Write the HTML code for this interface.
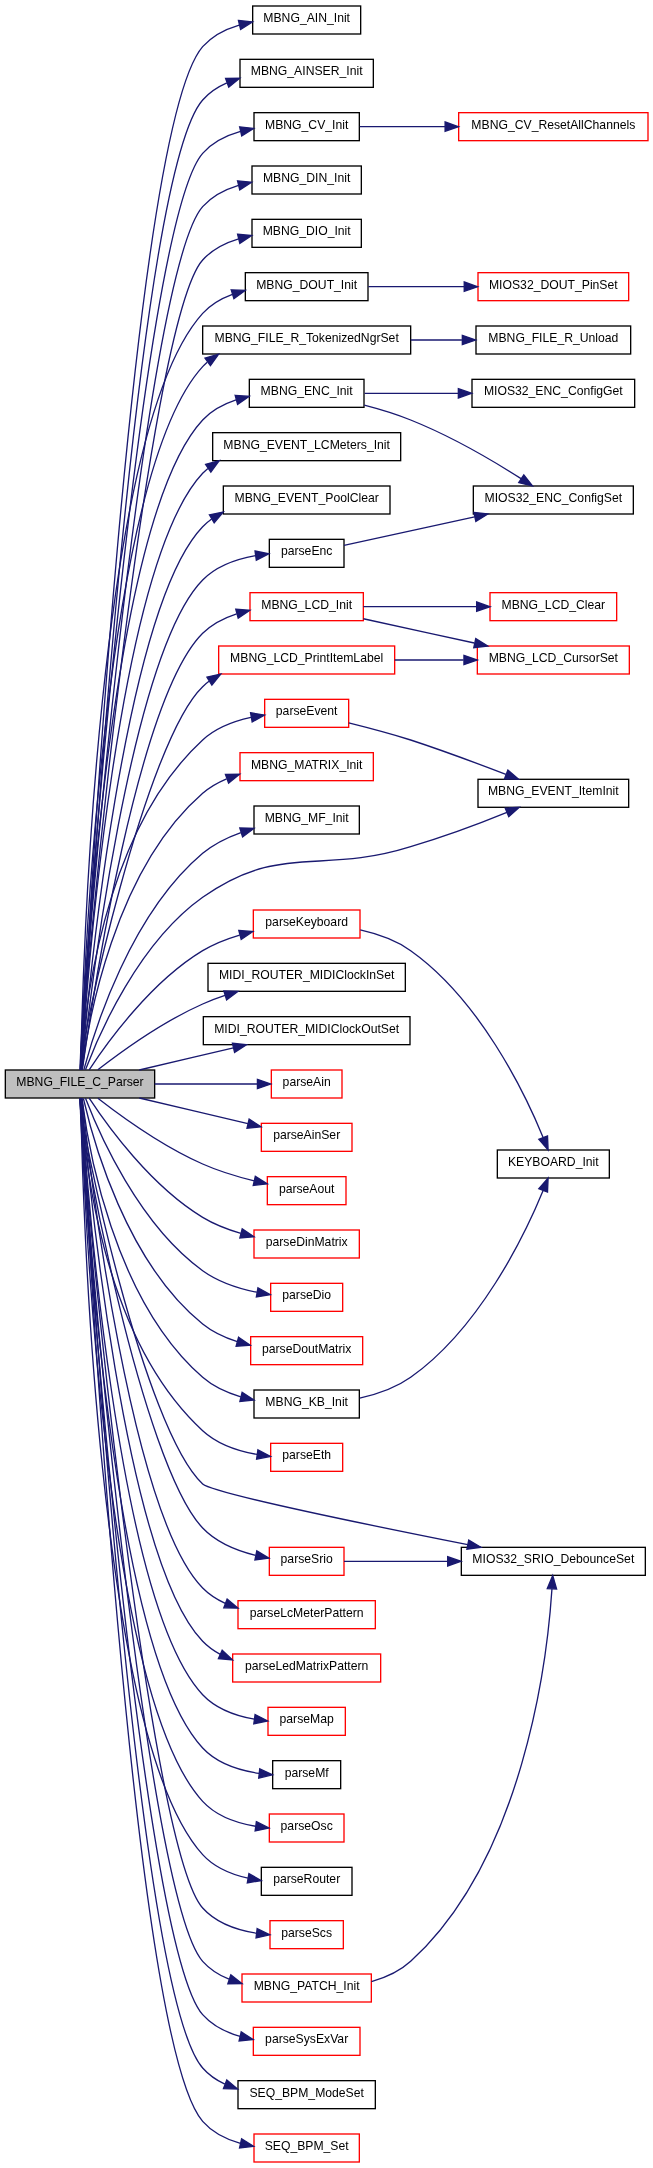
<!DOCTYPE html>
<html><head><meta charset="utf-8"><title>MBNG_FILE_C_Parser call graph</title><style>html,body{margin:0;padding:0;background:#fff;width:653px;height:2168px;overflow:hidden}svg{display:block;will-change:transform}</style></head>
<body><svg width="653" height="2168" viewBox="0 0 653 2168">
<g stroke-width="1.33">
<rect x="5.33" y="1070" width="149.33" height="28" fill="#bfbfbf" stroke="#000000"/>
<rect x="252.67" y="6" width="108" height="28" fill="#ffffff" stroke="#000000"/>
<rect x="240" y="59.33" width="133.33" height="28" fill="#ffffff" stroke="#000000"/>
<rect x="254" y="112.67" width="105.33" height="28" fill="#ffffff" stroke="#000000"/>
<rect x="252" y="166" width="109.33" height="28" fill="#ffffff" stroke="#000000"/>
<rect x="252" y="219.33" width="109.33" height="28" fill="#ffffff" stroke="#000000"/>
<rect x="245.33" y="272.67" width="122.67" height="28" fill="#ffffff" stroke="#000000"/>
<rect x="202.67" y="326" width="208" height="28" fill="#ffffff" stroke="#000000"/>
<rect x="249.33" y="379.33" width="114.67" height="28" fill="#ffffff" stroke="#000000"/>
<rect x="212.67" y="432.67" width="188" height="28" fill="#ffffff" stroke="#000000"/>
<rect x="223.33" y="486" width="166.67" height="28" fill="#ffffff" stroke="#000000"/>
<rect x="269.33" y="539.33" width="74.67" height="28" fill="#ffffff" stroke="#000000"/>
<rect x="250" y="592.67" width="113.33" height="28" fill="#ffffff" stroke="#ff0000"/>
<rect x="218.67" y="646" width="176" height="28" fill="#ffffff" stroke="#ff0000"/>
<rect x="264.67" y="699.33" width="84" height="28" fill="#ffffff" stroke="#ff0000"/>
<rect x="240" y="752.67" width="133.33" height="28" fill="#ffffff" stroke="#ff0000"/>
<rect x="254" y="806" width="105.33" height="28" fill="#ffffff" stroke="#000000"/>
<rect x="478" y="779.3" width="150.67" height="28" fill="#ffffff" stroke="#000000"/>
<rect x="253.33" y="910" width="106.67" height="28" fill="#ffffff" stroke="#ff0000"/>
<rect x="208" y="963.33" width="197.33" height="28" fill="#ffffff" stroke="#000000"/>
<rect x="203.33" y="1016.67" width="206.67" height="28" fill="#ffffff" stroke="#000000"/>
<rect x="271.33" y="1070" width="70.67" height="28" fill="#ffffff" stroke="#ff0000"/>
<rect x="261.33" y="1123.33" width="90.67" height="28" fill="#ffffff" stroke="#ff0000"/>
<rect x="267.33" y="1176.67" width="78.67" height="28" fill="#ffffff" stroke="#ff0000"/>
<rect x="254" y="1230" width="105.33" height="28" fill="#ffffff" stroke="#ff0000"/>
<rect x="270.67" y="1283.33" width="72" height="28" fill="#ffffff" stroke="#ff0000"/>
<rect x="250.67" y="1336.67" width="112" height="28" fill="#ffffff" stroke="#ff0000"/>
<rect x="254" y="1390" width="105.33" height="28" fill="#ffffff" stroke="#000000"/>
<rect x="270.67" y="1443.33" width="72" height="28" fill="#ffffff" stroke="#ff0000"/>
<rect x="461.33" y="1547.33" width="184" height="28" fill="#ffffff" stroke="#000000"/>
<rect x="269.33" y="1547.33" width="74.67" height="28" fill="#ffffff" stroke="#ff0000"/>
<rect x="238" y="1600.67" width="137.33" height="28" fill="#ffffff" stroke="#ff0000"/>
<rect x="232.67" y="1654" width="148" height="28" fill="#ffffff" stroke="#ff0000"/>
<rect x="268" y="1707.33" width="77.33" height="28" fill="#ffffff" stroke="#ff0000"/>
<rect x="272.67" y="1760.67" width="68" height="28" fill="#ffffff" stroke="#000000"/>
<rect x="269.33" y="1814" width="74.67" height="28" fill="#ffffff" stroke="#ff0000"/>
<rect x="261.33" y="1867.33" width="90.67" height="28" fill="#ffffff" stroke="#000000"/>
<rect x="270" y="1920.67" width="73.33" height="28" fill="#ffffff" stroke="#ff0000"/>
<rect x="242" y="1974" width="129.33" height="28" fill="#ffffff" stroke="#ff0000"/>
<rect x="253.33" y="2027.33" width="106.67" height="28" fill="#ffffff" stroke="#ff0000"/>
<rect x="238" y="2080.67" width="137.33" height="28" fill="#ffffff" stroke="#000000"/>
<rect x="254" y="2134" width="105.33" height="28" fill="#ffffff" stroke="#ff0000"/>
<rect x="458.67" y="112.67" width="189.33" height="28" fill="#ffffff" stroke="#ff0000"/>
<rect x="478" y="272.67" width="150.67" height="28" fill="#ffffff" stroke="#ff0000"/>
<rect x="476" y="326" width="154.67" height="28" fill="#ffffff" stroke="#000000"/>
<rect x="472" y="379.33" width="162.67" height="28" fill="#ffffff" stroke="#000000"/>
<rect x="473.33" y="486" width="160" height="28" fill="#ffffff" stroke="#000000"/>
<rect x="490" y="592.67" width="126.67" height="28" fill="#ffffff" stroke="#ff0000"/>
<rect x="477.33" y="646" width="152" height="28" fill="#ffffff" stroke="#ff0000"/>
<rect x="497.33" y="1150" width="112" height="28" fill="#ffffff" stroke="#000000"/>
</g>
<g font-family="'Liberation Sans', sans-serif" font-size="12.2" text-anchor="middle" fill="#000">
<text x="80" y="1086">MBNG_FILE_C_Parser</text>
<text x="306.67" y="22">MBNG_AIN_Init</text>
<text x="306.67" y="75.33">MBNG_AINSER_Init</text>
<text x="306.67" y="128.67">MBNG_CV_Init</text>
<text x="306.67" y="182">MBNG_DIN_Init</text>
<text x="306.67" y="235.33">MBNG_DIO_Init</text>
<text x="306.67" y="288.67">MBNG_DOUT_Init</text>
<text x="306.67" y="342">MBNG_FILE_R_TokenizedNgrSet</text>
<text x="306.67" y="395.33">MBNG_ENC_Init</text>
<text x="306.67" y="448.67">MBNG_EVENT_LCMeters_Init</text>
<text x="306.67" y="502">MBNG_EVENT_PoolClear</text>
<text x="306.67" y="555.33">parseEnc</text>
<text x="306.67" y="608.67">MBNG_LCD_Init</text>
<text x="306.67" y="662">MBNG_LCD_PrintItemLabel</text>
<text x="306.67" y="715.33">parseEvent</text>
<text x="306.67" y="768.67">MBNG_MATRIX_Init</text>
<text x="306.67" y="822">MBNG_MF_Init</text>
<text x="553.33" y="795.3">MBNG_EVENT_ItemInit</text>
<text x="306.67" y="926">parseKeyboard</text>
<text x="306.67" y="979.33">MIDI_ROUTER_MIDIClockInSet</text>
<text x="306.67" y="1032.67">MIDI_ROUTER_MIDIClockOutSet</text>
<text x="306.67" y="1086">parseAin</text>
<text x="306.67" y="1139.33">parseAinSer</text>
<text x="306.67" y="1192.67">parseAout</text>
<text x="306.67" y="1246">parseDinMatrix</text>
<text x="306.67" y="1299.33">parseDio</text>
<text x="306.67" y="1352.67">parseDoutMatrix</text>
<text x="306.67" y="1406">MBNG_KB_Init</text>
<text x="306.67" y="1459.33">parseEth</text>
<text x="553.33" y="1563.33">MIOS32_SRIO_DebounceSet</text>
<text x="306.67" y="1563.33">parseSrio</text>
<text x="306.67" y="1616.67">parseLcMeterPattern</text>
<text x="306.67" y="1670">parseLedMatrixPattern</text>
<text x="306.67" y="1723.33">parseMap</text>
<text x="306.67" y="1776.67">parseMf</text>
<text x="306.67" y="1830">parseOsc</text>
<text x="306.67" y="1883.33">parseRouter</text>
<text x="306.67" y="1936.67">parseScs</text>
<text x="306.67" y="1990">MBNG_PATCH_Init</text>
<text x="306.67" y="2043.33">parseSysExVar</text>
<text x="306.67" y="2096.67">SEQ_BPM_ModeSet</text>
<text x="306.67" y="2150">SEQ_BPM_Set</text>
<text x="553.33" y="128.67">MBNG_CV_ResetAllChannels</text>
<text x="553.33" y="288.67">MIOS32_DOUT_PinSet</text>
<text x="553.33" y="342">MBNG_FILE_R_Unload</text>
<text x="553.33" y="395.33">MIOS32_ENC_ConfigGet</text>
<text x="553.33" y="502">MIOS32_ENC_ConfigSet</text>
<text x="553.33" y="608.67">MBNG_LCD_Clear</text>
<text x="553.33" y="662">MBNG_LCD_CursorSet</text>
<text x="553.33" y="1166">KEYBOARD_Init</text>
</g>
<g fill="none" stroke="#191970" stroke-width="1.33">
<path d="M81.14,1069.8C87.38,951.23 131.96,127.85 202.67,46.67C212.11,35.83 225.33,29.12 239.16,25.03"/>
<path d="M81.23,1069.81C88.06,954.75 135.44,176.69 202.67,100C209.25,92.48 217.68,86.95 226.84,82.91"/>
<path d="M80.21,1069.81C79.75,1016.89 139.19,225.25 202.67,153.33C212.47,142.24 226.23,135.48 240.51,131.43"/>
<path d="M80.33,1069.99C80.34,1019.05 142.62,274.16 202.67,206.67C212.04,196.13 224.97,189.52 238.52,185.41"/>
<path d="M80.46,1069.57C80.98,1019.84 146.17,322.95 202.67,260C212.08,249.51 225.04,242.91 238.59,238.81"/>
<path d="M80.62,1069.91C82.42,975.08 96.47,430.49 202.67,313.33C210.67,304.51 221.17,298.44 232.41,294.31"/>
<path d="M80.81,1069.71C83.74,978.21 103.43,474.89 202.67,366.67C204.11,365.09 205.63,363.61 207.21,362.21"/>
<path d="M81.02,1069.65C85.14,982.01 110.33,519.37 202.67,420C211.6,410.39 223.51,404.07 236.05,399.93"/>
<path d="M81.26,1069.73C86.64,986.45 117.17,563.93 202.67,473.33C204.32,471.59 206.07,469.95 207.91,468.4"/>
<path d="M81.54,1069.96C88.22,991.55 123.93,608.6 202.67,526.67C205.41,523.8 208.44,521.24 211.65,518.93"/>
<path d="M81.89,1069.85C90.06,995.79 130.77,653.2 202.67,580C216.48,565.93 236.68,558.97 255.52,555.63"/>
<path d="M82.3,1070C92.04,1001.01 137.49,697.93 202.67,633.33C211.99,624.09 224.07,617.93 236.65,613.85"/>
<path d="M80.17,1069.93C80.29,1041.44 145.13,741.82 202.67,686.67C204.67,684.76 206.77,682.97 208.99,681.32"/>
<path d="M80.94,1069.68C83.86,1017.17 100.99,833.39 202.67,740C215.83,727.91 233.77,721.16 250.97,717.43"/>
<path d="M81.94,1069.95C88.01,1023.04 113.87,870.39 202.67,793.33C209.68,787.25 217.91,782.53 226.6,778.87"/>
<path d="M83.89,1069.69C94.61,1029.45 130.35,914.28 202.67,853.33C213.64,844.09 227.23,837.4 240.88,832.55"/>
<path d="M85.46,1069.67C98.85,1034.4 138.35,942.93 202.67,897.33C280.29,842.31 319.88,875.15 410.67,846.67C443.39,837.05 479.43,823.71 506.93,812.46"/>
<path d="M89.19,1069.85C107.18,1042.44 150.69,982.05 202.67,950.67C213.89,943.88 226.83,938.81 239.65,935.03"/>
<path d="M97.85,1069.81C120.77,1052.04 162.79,1021.73 202.67,1004C209.79,1000.84 217.35,997.99 225.01,995.44"/>
<path d="M139.29,1069.99C168.13,1063.19 203.06,1054.96 233.44,1047.79"/>
<path d="M154.68,1084C188.39,1084 227.41,1084 257.31,1084"/>
<path d="M139.29,1098.01C172.82,1105.93 214.6,1115.79 247.89,1123.65"/>
<path d="M97.85,1098.19C120.77,1115.96 162.79,1146.27 202.67,1164C218.87,1171.2 237.4,1176.76 254.21,1180.89"/>
<path d="M89.19,1098.15C107.18,1125.56 150.69,1185.95 202.67,1217.33C214.25,1224.33 227.65,1229.51 240.87,1233.33"/>
<path d="M85.5,1098.27C99,1133.41 138.69,1224.57 202.67,1270.67C218.39,1281.99 238.52,1288.51 256.79,1292.27"/>
<path d="M83.38,1098.51C92.96,1140.39 126.33,1262.47 202.67,1324C212.67,1332.07 224.84,1337.71 237.27,1341.67"/>
<path d="M81.9,1098.17C87.84,1145.51 113.31,1299.53 202.67,1377.33C213.4,1386.68 227.01,1392.81 240.79,1396.83"/>
<path d="M80.89,1098.07C83.62,1150.48 100.16,1336.29 202.67,1430.67C217.39,1444.21 238.09,1451.07 257.07,1454.47"/>
<path d="M80.02,1098.28C79.86,1127.19 143.83,1429.51 202.67,1484C212.89,1493.07 367.51,1524.79 467.74,1544.68"/>
<path d="M79.82,1098.21C79.18,1128.57 141.31,1463.67 202.67,1528C216.51,1542.51 236.72,1550.72 255.56,1555.35"/>
<path d="M81.89,1098.15C90.06,1172.21 130.77,1514.8 202.67,1588C209.08,1594.53 216.88,1599.53 225.28,1603.35"/>
<path d="M81.54,1098.04C88.22,1176.45 123.93,1559.4 202.67,1641.33C207.77,1646.64 213.79,1650.95 220.31,1654.43"/>
<path d="M81.26,1098.27C86.64,1181.55 117.17,1604.07 202.67,1694.67C215.99,1708.79 235.75,1715.8 254.39,1719.16"/>
<path d="M81.02,1098.35C85.14,1185.99 110.33,1648.63 202.67,1748C217.03,1763.45 239.09,1770.41 259.09,1773.4"/>
<path d="M80.81,1098.29C83.74,1189.79 103.43,1693.11 202.67,1801.33C216.09,1815.97 236.41,1823 255.45,1826.25"/>
<path d="M80.62,1098.09C82.42,1192.92 96.47,1737.51 202.67,1854.67C214.28,1867.48 231.19,1874.48 247.95,1878.21"/>
<path d="M80.46,1098.43C80.98,1148.16 146.17,1845.05 202.67,1908C216.13,1923 236.84,1930.05 256.15,1933.2"/>
<path d="M80.33,1098.01C80.34,1148.95 142.62,1893.84 202.67,1961.33C209.81,1969.36 219.03,1975.12 229.01,1979.21"/>
<path d="M80.21,1098.19C79.75,1151.11 139.19,1942.75 202.67,2014.67C212.37,2025.67 225.97,2032.4 240.11,2036.45"/>
<path d="M81.23,1098.19C88.06,1213.25 135.44,1991.31 202.67,2068C208.79,2074.97 216.47,2080.24 224.87,2084.2"/>
<path d="M81.14,1098.2C87.38,1216.77 131.96,2040.15 202.67,2121.33C212.39,2132.49 226.13,2139.28 240.41,2143.33"/>
<path d="M359.75,126.67C384.61,126.67 415.39,126.67 444.97,126.67"/>
<path d="M368.32,286.67C397.21,286.67 432.37,286.67 464.16,286.67"/>
<path d="M410.77,340C427.76,340 445.27,340 461.92,340"/>
<path d="M364.59,393.33C392.43,393.33 426.72,393.33 458.33,393.33"/>
<path d="M364.27,405.13C379.59,409.09 395.99,414.05 410.67,420C450.51,435.95 493.19,460.84 521.07,478.63"/>
<path d="M344,545.47C378.24,537.97 430.87,526.48 474.61,516.92"/>
<path d="M363.37,606.67C396.79,606.67 439.81,606.67 476.33,606.67"/>
<path d="M363.37,618.77C396.16,625.93 438.21,635.13 474.29,643.01"/>
<path d="M394.71,660C417.05,660 441.13,660 463.57,660"/>
<path d="M348.73,722.93C367.68,727.65 390.45,733.68 410.67,740C442.87,750.52 478.71,763.95 505.91,774.38"/>
<path d="M360.27,929.96C377.49,933.81 395.97,940.19 410.67,950.67C479.31,999.32 524.44,1091.99 543.12,1137.48"/>
<path d="M359.73,1398.16C377.11,1394.31 395.83,1387.92 410.67,1377.33C479.31,1328.68 524.44,1236.01 543.12,1190.52"/>
<path d="M344,1561.33C371.4,1561.33 410.55,1561.33 447.52,1561.33"/>
<path d="M371.47,1981.64C385.72,1977.64 399.81,1971.29 410.67,1961.33C523.09,1858.57 547.12,1661.63 551.95,1589.07"/>
</g>
<g fill="#191970" stroke="#191970" stroke-width="1.33">
<polygon points="238.45,20.4 252.51,21.87 240.61,29.48"/>
<polygon points="225.59,78.4 239.72,78.25 228.76,87.17"/>
<polygon points="239.63,126.84 253.67,128.43 241.71,135.95"/>
<polygon points="237.53,180.85 251.6,182.2 239.76,189.92"/>
<polygon points="237.6,234.25 251.67,235.6 239.83,243.31"/>
<polygon points="231.2,289.79 245.32,290.4 233.91,298.73"/>
<polygon points="205.01,358.05 218.59,354.13 210.43,365.65"/>
<polygon points="235.16,395.35 249.25,396.39 237.59,404.36"/>
<polygon points="205.59,464.33 219.23,460.67 210.85,472.04"/>
<polygon points="209.41,514.83 223.27,512.07 214.16,522.87"/>
<polygon points="255.04,550.99 268.89,553.79 256.32,560.23"/>
<polygon points="235.77,609.25 249.87,610.31 238.2,618.28"/>
<polygon points="206.97,677.08 220.76,674.03 211.88,685.01"/>
<polygon points="250.56,712.76 264.51,715.04 252.19,721.95"/>
<polygon points="225.45,774.32 239.59,774.23 228.6,783.11"/>
<polygon points="239.8,828 253.92,828.45 242.6,836.91"/>
<polygon points="505.2,808.13 519.31,807.34 508.76,816.75"/>
<polygon points="238.8,930.41 252.88,931.52 241.19,939.44"/>
<polygon points="223.85,990.92 237.97,991.44 226.61,999.83"/>
<polygon points="232.43,1043.23 246.48,1044.68 234.6,1052.31"/>
<polygon points="257.43,1079.33 270.76,1084 257.43,1088.67"/>
<polygon points="249.13,1119.16 261.03,1126.79 246.97,1128.24"/>
<polygon points="255.32,1176.36 267.27,1183.91 253.23,1185.45"/>
<polygon points="242.2,1228.87 253.93,1236.73 239.85,1237.89"/>
<polygon points="257.96,1287.73 270.29,1294.63 256.35,1296.92"/>
<polygon points="238.59,1337.19 250.21,1345.2 236.13,1346.19"/>
<polygon points="242.12,1392.35 253.96,1400.05 239.89,1401.41"/>
<polygon points="257.92,1449.88 270.47,1456.37 256.6,1459.12"/>
<polygon points="468.73,1540.12 480.9,1547.28 466.91,1549.27"/>
<polygon points="256.81,1550.84 268.92,1558.13 254.92,1559.99"/>
<polygon points="227.11,1599.05 237.92,1608.13 223.8,1607.79"/>
<polygon points="222.2,1650.16 232.49,1659.84 218.41,1658.69"/>
<polygon points="255.09,1714.55 267.65,1721.01 253.8,1723.79"/>
<polygon points="259.75,1768.77 272.49,1774.87 258.73,1778.05"/>
<polygon points="256.35,1821.65 268.97,1828 255.15,1830.92"/>
<polygon points="248.92,1873.64 261.24,1880.55 247.31,1882.84"/>
<polygon points="257.16,1928.63 269.84,1934.87 256.04,1937.89"/>
<polygon points="230.81,1974.89 241.96,1983.57 227.84,1983.75"/>
<polygon points="241.2,2031.92 253.13,2039.48 239.09,2041.01"/>
<polygon points="226.83,2079.95 237.59,2089.11 223.47,2088.65"/>
<polygon points="241.6,2138.81 253.57,2146.33 239.53,2147.92"/>
<polygon points="445.12,122 458.45,126.67 445.12,131.33"/>
<polygon points="464.23,282 477.56,286.67 464.23,291.33"/>
<polygon points="462.33,335.33 475.67,340 462.33,344.67"/>
<polygon points="458.35,388.67 471.68,393.33 458.35,398"/>
<polygon points="523.82,474.84 532.47,486 518.74,482.67"/>
<polygon points="473.85,512.31 487.88,514.01 475.85,521.43"/>
<polygon points="476.65,602 489.99,606.67 476.65,611.33"/>
<polygon points="475.76,638.56 487.79,645.96 473.77,647.68"/>
<polygon points="463.96,655.33 477.29,660 463.96,664.67"/>
<polygon points="507.85,770.13 518.61,779.29 504.49,778.83"/>
<polygon points="547.51,1135.87 548.09,1149.97 538.83,1139.31"/>
<polygon points="538.83,1188.69 548.09,1178.03 547.51,1192.13"/>
<polygon points="447.68,1556.67 461.01,1561.33 447.68,1566"/>
<polygon points="547.29,1588.59 552.72,1575.55 556.61,1589.12"/>
</g>
</svg></body></html>
